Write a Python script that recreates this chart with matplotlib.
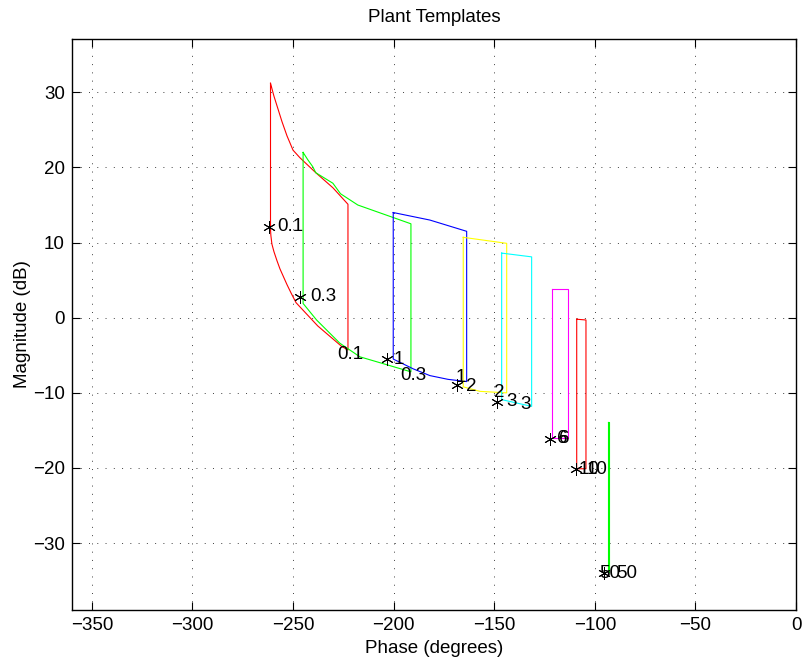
import numpy as np
import matplotlib
matplotlib.use("Agg")
import matplotlib.pyplot as plt

plt.rcParams['font.family'] = ['Liberation Sans', 'DejaVu Sans']

# template outlines (phase in degrees, magnitude in dB)
phase_01 = [-261.2, -259.5, -257.5, -255.5, -253.0, -250.0, -246.6, -238.7, -230.2, -222.7,
            -222.7, -225.9, -237.7, -248.5, -251.0, -253.0, -255.0, -256.5, -258.0, -259.5,
            -260.5, -261.0, -261.2, -261.2]
mag_01 = [31.2, 29.5, 27.8, 26.1, 24.2, 22.3, 21.3, 19.3, 17.3, 15.1,
          -4.3, -3.8, -1.1, 2.0, 3.3, 4.4, 5.6, 6.5, 7.6, 8.8,
          9.8, 10.9, 11.7, 31.2]

phase_03 = [-245.0, -242.6, -240.2, -238.7, -230.2, -226.4, -217.8, -191.4,
            -191.4, -216.8, -226.7, -238.3, -245.0, -245.0]
mag_03 = [22.0, 21.0, 20.1, 19.3, 17.9, 16.5, 15.0, 12.5,
          -7.2, -5.2, -3.4, -0.3, 1.9, 22.0]

phase_1 = [-200.2, -182.0, -163.7, -163.7, -173.0, -182.0, -190.3, -200.2, -200.2]
mag_1 = [14.0, 13.0, 11.5, -8.5, -8.2, -7.7, -6.8, -5.5, 14.0]

phase_2 = [-165.4, -143.8, -143.8, -157.1, -165.4, -165.4]
mag_2 = [10.7, 9.9, -10.0, -9.8, -9.2, 10.7]

phase_3 = [-146.3, -131.4, -131.4, -146.3, -146.3]
mag_3 = [8.6, 8.1, -11.8, -10.9, 8.6]

phase_6 = [-121.1, -113.5, -113.5, -121.1, -121.1]
mag_6 = [3.8, 3.8, -16.0, -16.0, 3.8]

phase_10 = [-109.0, -104.4, -104.4, -109.0, -109.0]
mag_10 = [-0.2, -0.3, -20.1, -20.1, -0.2]

phase_50 = [-93.6, -92.8, -92.8, -93.6, -93.6]
mag_50 = [-13.9, -13.9, -33.8, -33.8, -13.9]

# nominal plant points
star_phase = [-262.0, -246.6, -203.4, -168.4, -148.4, -122.3, -109.4, -95.5]
star_mag = [12.1, 2.8, -5.5, -8.9, -11.2, -16.1, -20.2, -34.0]

# frequency labels
label_text = ['0.1', '0.3', '0.1', '1', '0.3', '1', '2', '2', '3', '3',
              '6', '6', '10', '10', '50', '50']
label_phase = [-257.6, -241.6, -228.2, -199.9, -196.9, -169.1, -164.1, -150.2, -144.2, -137.2,
               -118.8, -117.8, -107.9, -103.9, -98.0, -89.5]
label_mag = [12.1, 2.8, -4.9, -5.6, -7.7, -8.0, -9.2, -9.9, -11.2, -11.5,
             -16.1, -16.1, -20.2, -20.2, -34.1, -34.1]

fig = plt.figure(figsize=(8.06, 6.65), dpi=100)
ax = fig.add_axes([0.089, 0.0827, 0.8986, 0.8587])

templates = [(phase_01, mag_01, 'r'), (phase_03, mag_03, 'g'), (phase_1, mag_1, 'b'),
             (phase_2, mag_2, 'y'), (phase_3, mag_3, 'c'), (phase_6, mag_6, 'm'),
             (phase_10, mag_10, 'r'), (phase_50, mag_50, 'g')]
colmap = {'r': '#ff0000', 'g': '#00ff00', 'b': '#0000ff', 'y': '#ffff00', 'c': '#00ffff', 'm': '#ff00ff'}
for ph, mg, c in templates:
    ax.plot(ph, mg, color=colmap[c], lw=0.8)

ax.plot(star_phase, star_mag, linestyle='none', marker=(6, 2, 0), color='k',
        markersize=9, markeredgewidth=0.7)

for t, x, y in zip(label_text, label_phase, label_mag):
    ax.text(x, y, t, fontsize=13.5, ha='left', va='center', color='k')

ax.set_xlim(-360, 0)
ax.set_ylim(-38.9, 37.1)
ax.set_xticks(np.arange(-350, 1, 50))
ax.set_yticks([-30, -20, -10, 0, 10, 20, 30])
ax.set_xticklabels(['\u2212350', '\u2212300', '\u2212250', '\u2212200', '\u2212150', '\u2212100', '\u221250', '0'])
ax.set_yticklabels(['\u221230', '\u221220', '\u221210', '0', '10', '20', '30'])
ax.tick_params(direction='in', length=6, width=0.8, top=True, right=True, labelsize=13.5, pad=5)
ax.grid(True, color='#404040', linestyle=(0, (1, 7.5)), linewidth=0.7)
for s in ax.spines.values():
    s.set_linewidth(1.0)

ax.set_title('Plant Templates', fontsize=13.5, pad=12)
ax.set_xlabel('Phase (degrees)', fontsize=13.5, labelpad=4)
ax.set_ylabel('Magnitude (dB)', fontsize=13.5, labelpad=1)

fig.savefig('out.png', dpi=100)
